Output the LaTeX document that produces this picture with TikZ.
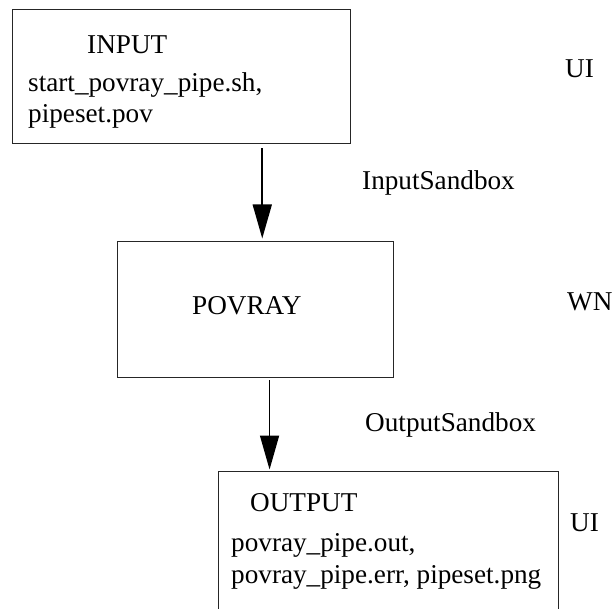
\documentclass[tikz,border=0pt]{standalone}
\usepackage{fontspec}
\setmainfont{Liberation Serif}
\usetikzlibrary{arrows.meta}
\begin{document}
\begin{tikzpicture}[x=1pt,y=-1pt,
  boxstyle/.style={draw=black!85,line width=1.1pt,inner sep=0pt,anchor=north west},
  txt/.style={anchor=base west,inner sep=0pt,font=\fontsize{27.2}{33}\selectfont},
  arr/.style={line width=1.6pt,-{Triangle[length=34pt,width=19pt]}}]
\clip (0,0) rectangle (613,609);
\fill[white] (0,0) rectangle (613,609);
% boxes
\node[boxstyle,minimum width=338pt,minimum height=134pt] (inbox) at (12,9) {};
\node[boxstyle,minimum width=276pt,minimum height=136pt] (povbox) at (117,241) {};
\node[boxstyle,minimum width=340pt,minimum height=180pt] (outbox) at (218,471) {};
% texts
\node[txt] (t1) at (87,54) {INPUT};
\node[txt] (t2) at (28,91.5) {start\_povray\_pipe.sh,};
\node[txt] (t3) at (28,123) {pipeset.pov};
\node[txt] (t4) at (192,315) {POVRAY};
\node[txt] (t5) at (250,511.5) {OUTPUT};
\node[txt] (t6) at (231,551.5) {povray\_pipe.out,};
\node[txt] (t7) at (231,583) {povray\_pipe.err, pipeset.png};
\node[txt] (ui1) at (565,78) {UI};
\node[txt] (isb) at (362,190) {InputSandbox};
\node[txt] (wn) at (567,310.5) {WN};
\node[txt] (osb) at (365,431.5) {OutputSandbox};
\node[txt] (ui2) at (570,531.5) {UI};
% arrows
\draw[arr] ([xshift=80.7pt,yshift=-4pt]inbox.south) -- ([xshift=6.7pt,yshift=2.5pt]povbox.north);
\draw[arr] ([xshift=14pt,yshift=-2pt]povbox.south) -- ([xshift=-119pt,yshift=1.5pt]outbox.north);
\end{tikzpicture}
\end{document}
